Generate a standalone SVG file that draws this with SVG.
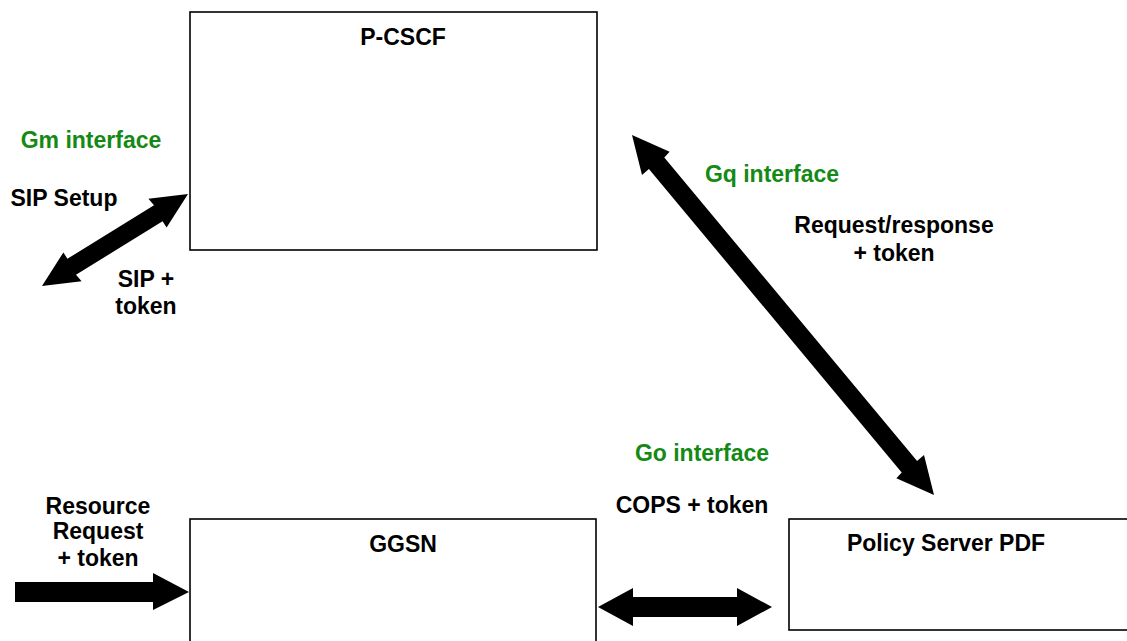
<svg xmlns="http://www.w3.org/2000/svg" width="1127" height="641" viewBox="0 0 1127 641">
<style>
.box{fill:#fff;stroke:#000;stroke-width:1.6}
.t{font-family:"Liberation Sans",Arial,sans-serif;font-weight:bold;font-size:23px;fill:#000;text-anchor:middle}
.g{fill:#148a14}
.arr{fill:#000;stroke:none}
</style>
<rect width="1127" height="641" fill="#fff"/>
<g id="pcscf">
<rect class="box" x="190" y="12" width="407" height="238"/>
<text class="t" x="403" y="45">P-CSCF</text>
</g>
<g id="ggsn">
<rect class="box" x="190" y="519" width="406" height="140"/>
<text class="t" x="403" y="552">GGSN</text>
</g>
<g id="pdf">
<rect class="box" x="789" y="519" width="360" height="111"/>
<text class="t" x="946" y="551">Policy Server PDF</text>
</g>
<g id="connectors">
<polygon class="arr" points="188,194 166.6,227.6 162.6,221.2 76.0,274.8 81.6,281.2 42,286 63.4,252.4 67.4,258.8 154.0,205.2 148.4,198.8"/>
<polygon class="arr" points="632,135 669.6,151.7 664.3,157.6 917.1,461.0 924,455.1 934,495 896.4,478.3 901.7,472.4 648.9,169.0 642,174.9"/>
<polygon class="arr" points="598,607 633,588 633,597 737,597 737,588 772,607 737,626 737,617 633,617 633,626"/>
<polygon class="arr" points="15,582 153,582 153,573 189,592 153,610 153,602 15,602"/>
</g>
<g id="labels">
<text class="t g" x="91" y="148">Gm interface</text>
<text class="t" x="64" y="206">SIP Setup</text>
<text class="t" x="146" y="287">SIP +</text>
<text class="t" x="146" y="314">token</text>
<text class="t g" x="772" y="182">Gq interface</text>
<text class="t" x="894" y="233">Request/response</text>
<text class="t" x="894" y="261">+ token</text>
<text class="t g" x="702" y="461">Go interface</text>
<text class="t" x="692" y="513">COPS + token</text>
<text class="t" x="98" y="514">Resource</text>
<text class="t" x="98" y="539">Request</text>
<text class="t" x="98" y="566">+ token</text>
</g>
</svg>
